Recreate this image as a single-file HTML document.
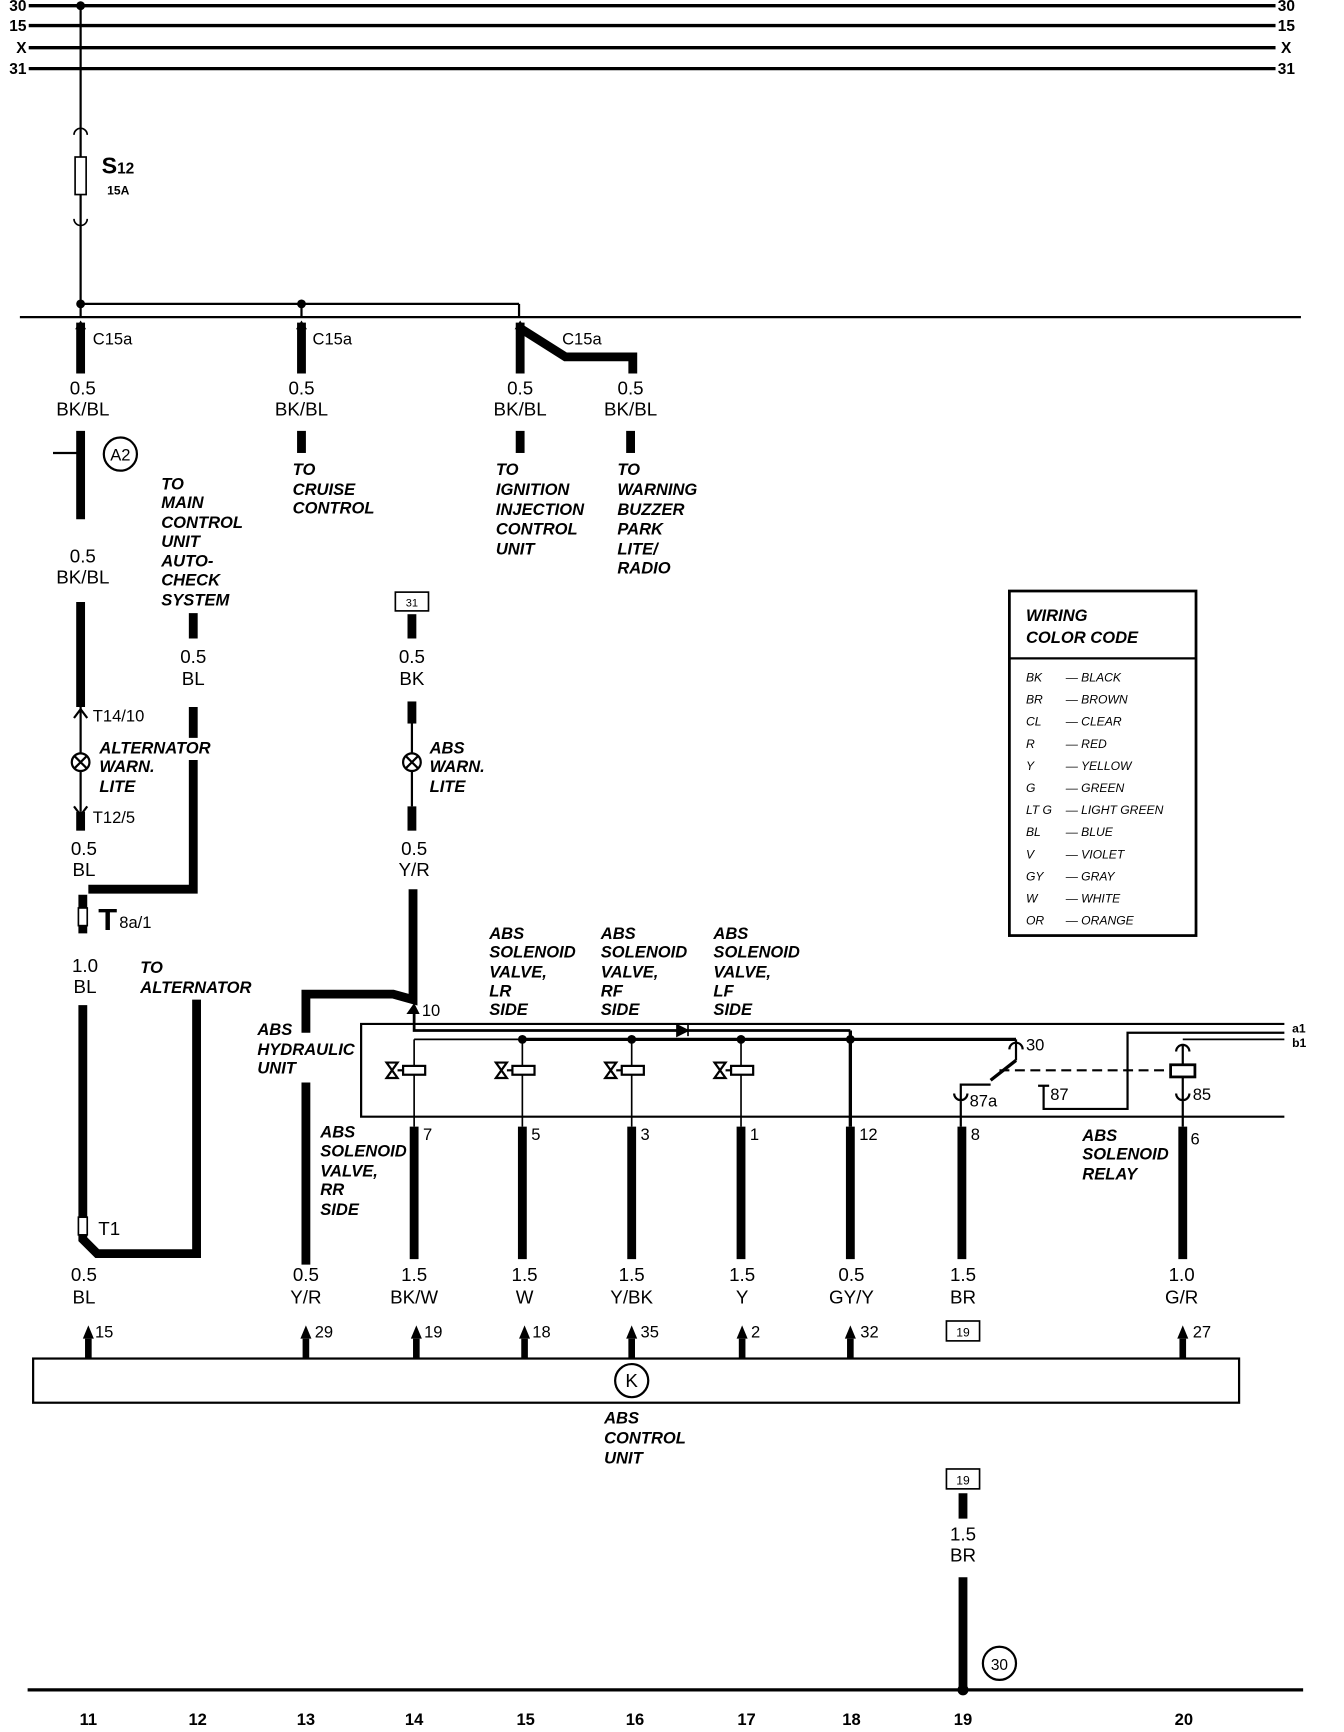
<!DOCTYPE html>
<html><head><meta charset="utf-8"><style>
html,body{margin:0;padding:0;background:#fff;}
svg{display:block;}
text{font-family:"Liberation Sans",sans-serif;fill:#000;}
.g{font-size:17px;text-anchor:middle;}
.i{font-size:15px;font-weight:bold;font-style:italic;}
.p{font-size:15px;}
.lg{font-size:11px;font-style:italic;}
</style></head><body>
<svg width="1344" height="1732" viewBox="0 0 1217 1568" xmlns="http://www.w3.org/2000/svg">
<g stroke="#000" fill="none">
<line x1="26" y1="5" x2="1155" y2="5" stroke-width="3"/>
<line x1="26" y1="23" x2="1155" y2="23" stroke-width="3"/>
<line x1="26" y1="43" x2="1155" y2="43" stroke-width="3"/>
<line x1="26" y1="62" x2="1155" y2="62" stroke-width="3"/>
<line x1="73" y1="5" x2="73" y2="287" stroke-width="2"/>
<rect x="68" y="142" width="10" height="34" stroke-width="1.5" fill="#fff"/>
<path d="M67,122 a6,6 0 0 1 12,0 M67,198 a6,6 0 0 0 12,0" stroke-width="1.5"/>
<line x1="73" y1="275" x2="470" y2="275" stroke-width="2"/>
<line x1="273" y1="275" x2="273" y2="287" stroke-width="2"/>
<line x1="470" y1="275" x2="470" y2="287" stroke-width="2"/>
<line x1="18" y1="287" x2="1178" y2="287" stroke-width="2"/>
<g stroke-width="8">
<line x1="73" y1="292" x2="73" y2="338"/>
<line x1="273" y1="292" x2="273" y2="338"/>
<path d="M471,292 V338 M471,297 L512,323 H573 V338"/>
<line x1="73" y1="390" x2="73" y2="470"/>
<line x1="273" y1="390" x2="273" y2="410"/>
<line x1="471" y1="390" x2="471" y2="410"/>
<line x1="571" y1="390" x2="571" y2="410"/>
<line x1="73" y1="545" x2="73" y2="640"/>
<line x1="73" y1="735" x2="73" y2="752"/>
<line x1="175" y1="555" x2="175" y2="578"/>
<line x1="175" y1="640" x2="175" y2="668"/>
<path d="M175,688 V805 H80"/>
<line x1="75" y1="810" x2="75" y2="845"/>
<path d="M75,910 V1122 L88,1135 H178 V905"/>
<line x1="373" y1="556" x2="373" y2="578"/>
<line x1="373" y1="635" x2="373" y2="655"/>
<line x1="373" y1="730" x2="373" y2="752"/>
<path d="M374,805 V905 L356,900 H277 V935"/>
<line x1="277" y1="980" x2="277" y2="1145"/>
<line x1="375" y1="1020" x2="375" y2="1140"/>
<line x1="473" y1="1020" x2="473" y2="1140"/>
<line x1="572" y1="1020" x2="572" y2="1140"/>
<line x1="671" y1="1020" x2="671" y2="1140"/>
<line x1="770" y1="1020" x2="770" y2="1140"/>
<line x1="871" y1="1020" x2="871" y2="1140"/>
<line x1="1071" y1="1020" x2="1071" y2="1140"/>
<line x1="872" y1="1352" x2="872" y2="1375"/>
<line x1="872" y1="1428" x2="872" y2="1530"/>
</g>
<line x1="48" y1="410" x2="73" y2="410" stroke-width="2"/>
<circle cx="109" cy="411" r="15" stroke-width="2"/>
<line x1="73" y1="640" x2="73" y2="735" stroke-width="2"/>
<path d="M67,650 L73,642 L79,650 M67,730 L73,738 L79,730" stroke-width="2"/>
<circle cx="73" cy="690" r="8" fill="#fff" stroke-width="2"/>
<path d="M67,684 L79,696 M79,684 L67,696" stroke-width="2"/>
<line x1="373" y1="655" x2="373" y2="730" stroke-width="2"/>
<circle cx="373" cy="690" r="8" fill="#fff" stroke-width="2"/>
<path d="M367,684 L379,696 M379,684 L367,696" stroke-width="2"/>
<rect x="71" y="822" width="8" height="16" fill="#fff" stroke-width="1.5"/>
<rect x="71" y="1102" width="8" height="16" fill="#fff" stroke-width="1.5"/>
<rect x="358" y="536" width="30" height="17" stroke-width="1.5"/>
<path d="M1163,927 H327 V1011 H1163" stroke-width="2"/>
<path d="M375,913 V933 H770" stroke-width="2.5"/>
<path d="M375,941 V1020" stroke-width="1.5"/>
<line x1="375" y1="941" x2="473" y2="941" stroke-width="1.5"/>
<line x1="473" y1="941" x2="920" y2="941" stroke-width="3"/>
<line x1="770" y1="933" x2="770" y2="1020" stroke-width="3"/>
<line x1="473" y1="941" x2="473" y2="1020" stroke-width="1.5"/>
<line x1="572" y1="941" x2="572" y2="1020" stroke-width="1.5"/>
<line x1="671" y1="941" x2="671" y2="1020" stroke-width="1.5"/>
<path d="M613,928 L623,933 L613,938 Z M623,928 V938" fill="#000" stroke-width="1.5"/>
<g stroke-width="2">
<path d="M350,962 H360 L350,976 H360 Z"/><line x1="360" y1="969" x2="365" y2="969"/><rect x="365" y="965" width="20" height="8" fill="#fff"/>
<path d="M449,962 H459 L449,976 H459 Z"/><line x1="459" y1="969" x2="464" y2="969"/><rect x="464" y="965" width="20" height="8" fill="#fff"/>
<path d="M548,962 H558 L548,976 H558 Z"/><line x1="558" y1="969" x2="563" y2="969"/><rect x="563" y="965" width="20" height="8" fill="#fff"/>
<path d="M647,962 H657 L647,976 H657 Z"/><line x1="657" y1="969" x2="662" y2="969"/><rect x="662" y="965" width="20" height="8" fill="#fff"/>
</g>
<path d="M920,941 V960 M914,950 a6,6 0 0 1 12,0" stroke-width="2"/>
<line x1="920" y1="960" x2="897" y2="978" stroke-width="3"/>
<path d="M897,982 H870 V1020 M864,990 a6,6 0 0 0 12,0" stroke-width="2"/>
<line x1="905" y1="969" x2="1060" y2="969" stroke-width="2" stroke-dasharray="9,5"/>
<rect x="1060" y="964" width="22" height="11" stroke-width="2.5" fill="#fff"/>
<path d="M1071,945 V964 M1071,975 V1020 M1065,952 a6,6 0 0 1 12,0 M1065,990 a6,6 0 0 0 12,0" stroke-width="2"/>
<path d="M1071,941 H1163" stroke-width="1.5"/>
<path d="M1163,935 H1021 V1004 H945 V983 M940,983 H950" stroke-width="2"/>
<rect x="30" y="1230" width="1092" height="40" stroke-width="2"/>
<circle cx="572" cy="1250" r="15" stroke-width="2"/>
<rect x="857" y="1196" width="30" height="18" stroke-width="1.5"/>
<rect x="857" y="1330" width="30" height="18" stroke-width="1.5"/>
<circle cx="905" cy="1506" r="15" stroke-width="2"/>
<line x1="25" y1="1530" x2="1180" y2="1530" stroke-width="3"/>
<rect x="914" y="535" width="169" height="312" stroke-width="2.5"/>
<line x1="914" y1="596" x2="1083" y2="596" stroke-width="2"/>
</g>
<g fill="#000">
<circle cx="73" cy="5" r="4"/><circle cx="73" cy="275" r="4"/><circle cx="273" cy="275" r="4"/>
<circle cx="473" cy="941" r="4"/><circle cx="572" cy="941" r="4"/><circle cx="671" cy="941" r="4"/><circle cx="770" cy="941" r="4"/>
<circle cx="872" cy="1530" r="5"/>
<path d="M68,298 L73,290 L78,298Z M268,298 L273,290 L278,298Z M466,298 L471,290 L476,298Z M368,918 L375,908 L380,918Z"/>
<path d="M75,1212 L80,1200 L85,1212Z M272,1212 L277,1200 L282,1212Z M372,1212 L377,1200 L382,1212Z M470,1212 L475,1200 L480,1212Z M567,1212 L572,1200 L577,1212Z M667,1212 L672,1200 L677,1212Z M765,1212 L770,1200 L775,1212Z M1066,1212 L1071,1200 L1076,1212Z"/>
<rect x="77" y="1212" width="6" height="18"/><rect x="274" y="1212" width="6" height="18"/><rect x="374" y="1212" width="6" height="18"/><rect x="472" y="1212" width="6" height="18"/><rect x="569" y="1212" width="6" height="18"/><rect x="669" y="1212" width="6" height="18"/><rect x="767" y="1212" width="6" height="18"/><rect x="1068" y="1212" width="6" height="18"/>
</g>
<g font-weight="bold" font-size="14">
<text x="24" y="10" text-anchor="end">30</text><text x="24" y="28" text-anchor="end">15</text><text x="24" y="48" text-anchor="end">X</text><text x="24" y="67" text-anchor="end">31</text>
<text x="1157" y="10">30</text><text x="1157" y="28">15</text><text x="1160" y="48">X</text><text x="1157" y="67">31</text>
</g>
<text x="92" y="157" font-size="21" font-weight="bold">S<tspan font-size="14">12</tspan></text>
<text x="97" y="176" font-size="11" font-weight="bold">15A</text>
<text class="p" x="84" y="312">C15a</text><text class="p" x="283" y="312">C15a</text><text class="p" x="509" y="312">C15a</text>
<g class="g">
<text x="75" y="357">0.5</text><text x="75" y="376">BK/BL</text>
<text x="273" y="357">0.5</text><text x="273" y="376">BK/BL</text>
<text x="471" y="357">0.5</text><text x="471" y="376">BK/BL</text>
<text x="571" y="357">0.5</text><text x="571" y="376">BK/BL</text>
<text x="75" y="509">0.5</text><text x="75" y="528">BK/BL</text>
<text x="175" y="600">0.5</text><text x="175" y="620">BL</text>
<text x="373" y="600">0.5</text><text x="373" y="620">BK</text>
<text x="76" y="774">0.5</text><text x="76" y="793">BL</text>
<text x="375" y="774">0.5</text><text x="375" y="793">Y/R</text>
<text x="77" y="880">1.0</text><text x="77" y="899">BL</text>
<text x="76" y="1160">0.5</text><text x="76" y="1180">BL</text>
<text x="277" y="1160">0.5</text><text x="277" y="1180">Y/R</text>
<text x="375" y="1160">1.5</text><text x="375" y="1180">BK/W</text>
<text x="475" y="1160">1.5</text><text x="475" y="1180">W</text>
<text x="572" y="1160">1.5</text><text x="572" y="1180">Y/BK</text>
<text x="672" y="1160">1.5</text><text x="672" y="1180">Y</text>
<text x="771" y="1160">0.5</text><text x="771" y="1180">GY/Y</text>
<text x="872" y="1160">1.5</text><text x="872" y="1180">BR</text>
<text x="1070" y="1160">1.0</text><text x="1070" y="1180">G/R</text>
<text x="872" y="1395">1.5</text><text x="872" y="1414">BR</text>
</g>
<text x="109" y="417" font-size="15" text-anchor="middle">A2</text>
<text x="373" y="549" font-size="10" text-anchor="middle">31</text>
<text x="872" y="1210" font-size="11" text-anchor="middle">19</text>
<text x="872" y="1344" font-size="11" text-anchor="middle">19</text>
<text x="905" y="1512" font-size="14" text-anchor="middle">30</text>
<text x="572" y="1256" font-size="17" text-anchor="middle">K</text>
<text class="p" x="84" y="653">T14/10</text>
<text class="p" x="84" y="745">T12/5</text>
<text x="89" y="842" font-size="28" font-weight="bold">T</text><text x="108" y="840" font-size="15">8a/1</text>
<text x="89" y="1118" font-size="17">T1</text>
<text class="p" x="382" y="920">10</text>
<g class="p"><text x="383" y="1032">7</text><text x="481" y="1032">5</text><text x="580" y="1032">3</text><text x="679" y="1032">1</text><text x="778" y="1032">12</text><text x="879" y="1032">8</text><text x="1078" y="1036">6</text>
<text x="929" y="951">30</text><text x="878" y="1002">87a</text><text x="951" y="996">87</text><text x="1080" y="996">85</text>
<text x="86" y="1211">15</text><text x="285" y="1211">29</text><text x="384" y="1211">19</text><text x="482" y="1211">18</text><text x="580" y="1211">35</text><text x="680" y="1211">2</text><text x="779" y="1211">32</text><text x="1080" y="1211">27</text></g>
<text x="1170" y="935" font-size="11" font-weight="bold">a1</text><text x="1170" y="948" font-size="11" font-weight="bold">b1</text>
<g font-size="15" font-weight="bold" text-anchor="middle">
<text x="80" y="1562">11</text><text x="179" y="1562">12</text><text x="277" y="1562">13</text><text x="375" y="1562">14</text><text x="476" y="1562">15</text><text x="575" y="1562">16</text><text x="676" y="1562">17</text><text x="771" y="1562">18</text><text x="872" y="1562">19</text><text x="1072" y="1562">20</text>
</g>
<g class="i">
<text x="146" y="443">TO</text><text x="146" y="460">MAIN</text><text x="146" y="478">CONTROL</text><text x="146" y="495">UNIT</text><text x="146" y="513">AUTO-</text><text x="146" y="530">CHECK</text><text x="146" y="548">SYSTEM</text>
<text x="265" y="430">TO</text><text x="265" y="448">CRUISE</text><text x="265" y="465">CONTROL</text>
<text x="449" y="430">TO</text><text x="449" y="448">IGNITION</text><text x="449" y="466">INJECTION</text><text x="449" y="484">CONTROL</text><text x="449" y="502">UNIT</text>
<text x="559" y="430">TO</text><text x="559" y="448">WARNING</text><text x="559" y="466">BUZZER</text><text x="559" y="484">PARK</text><text x="559" y="502">LITE/</text><text x="559" y="519">RADIO</text>
<text x="90" y="682">ALTERNATOR</text><text x="90" y="699">WARN.</text><text x="90" y="717">LITE</text>
<text x="389" y="682">ABS</text><text x="389" y="699">WARN.</text><text x="389" y="717">LITE</text>
<text x="127" y="881">TO</text><text x="127" y="899">ALTERNATOR</text>
<text x="443" y="850">ABS</text><text x="443" y="867">SOLENOID</text><text x="443" y="885">VALVE,</text><text x="443" y="902">LR</text><text x="443" y="919">SIDE</text>
<text x="544" y="850">ABS</text><text x="544" y="867">SOLENOID</text><text x="544" y="885">VALVE,</text><text x="544" y="902">RF</text><text x="544" y="919">SIDE</text>
<text x="646" y="850">ABS</text><text x="646" y="867">SOLENOID</text><text x="646" y="885">VALVE,</text><text x="646" y="902">LF</text><text x="646" y="919">SIDE</text>
<text x="233" y="937">ABS</text><text x="233" y="955">HYDRAULIC</text><text x="233" y="972">UNIT</text>
<text x="290" y="1030">ABS</text><text x="290" y="1047">SOLENOID</text><text x="290" y="1065">VALVE,</text><text x="290" y="1082">RR</text><text x="290" y="1100">SIDE</text>
<text x="980" y="1033">ABS</text><text x="980" y="1050">SOLENOID</text><text x="980" y="1068">RELAY</text>
<text x="547" y="1289">ABS</text><text x="547" y="1307">CONTROL</text><text x="547" y="1325">UNIT</text>
<text x="929" y="562">WIRING</text><text x="929" y="582">COLOR CODE</text>
</g>
<g class="lg">
<text x="929" y="617">BK</text><text x="965" y="617">— BLACK</text>
<text x="929" y="637">BR</text><text x="965" y="637">— BROWN</text>
<text x="929" y="657">CL</text><text x="965" y="657">— CLEAR</text>
<text x="929" y="677">R</text><text x="965" y="677">— RED</text>
<text x="929" y="697">Y</text><text x="965" y="697">— YELLOW</text>
<text x="929" y="717">G</text><text x="965" y="717">— GREEN</text>
<text x="929" y="737">LT G</text><text x="965" y="737">— LIGHT GREEN</text>
<text x="929" y="757">BL</text><text x="965" y="757">— BLUE</text>
<text x="929" y="777">V</text><text x="965" y="777">— VIOLET</text>
<text x="929" y="797">GY</text><text x="965" y="797">— GRAY</text>
<text x="929" y="817">W</text><text x="965" y="817">— WHITE</text>
<text x="929" y="837">OR</text><text x="965" y="837">— ORANGE</text>
</g>
</svg>
</body></html>
